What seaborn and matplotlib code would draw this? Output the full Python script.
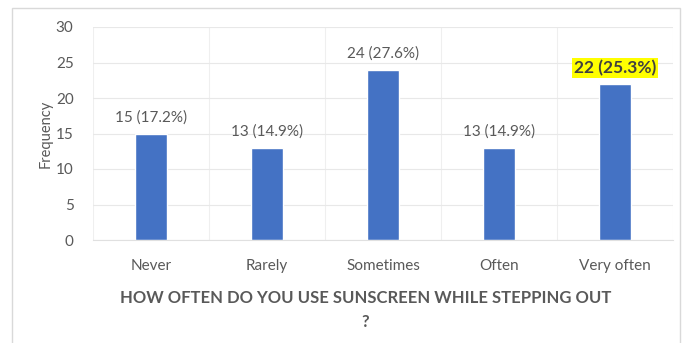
import matplotlib
matplotlib.use("Agg")
import matplotlib.pyplot as plt
import seaborn as sns
import pandas as pd
from matplotlib.patches import Rectangle

# answers and counts
categories = ["Never", "Rarely", "Sometimes", "Often", "Very often"]
counts = [15, 13, 24, 13, 22]
percents = [17.2, 14.9, 27.6, 14.9, 25.3]

df = pd.DataFrame({"answer": categories, "count": counts})

sns.set_style("whitegrid")
plt.rcParams["font.family"] = ["Lato", "DejaVu Sans"]

fig = plt.figure(figsize=(6.83, 3.43), dpi=100)
# light frame round the chart, as in the spreadsheet export
fig.patches.append(Rectangle((12 / 683, -0.01), 668 / 683, 1 - 8 / 343 + 0.01,
                             transform=fig.transFigure, fill=False,
                             edgecolor="#d9d9d9", linewidth=1))
ax = fig.add_axes([93 / 683, 1 - 240 / 343, 580 / 683, 213 / 343])

sns.barplot(data=df, x="answer", y="count", color="#4472c4", width=0.28,
            saturation=1, ax=ax)

ax.set_ylim(0, 30)
ax.set_yticks(range(0, 31, 5))
ax.set_xlim(-0.5, 4.5)
ax.set_xticks(range(len(categories)))
ax.set_xticklabels(categories)

# grid: horizontal at ticks, vertical between categories
ax.grid(axis="y", color="#e8e8e8", linewidth=0.8)
ax.set_xticks([x + 0.5 for x in range(-1, 5)], minor=True)
ax.grid(axis="x", which="major", visible=False)
ax.grid(axis="x", which="minor", color="#efefef", linewidth=0.8)
ax.tick_params(axis="x", which="minor", length=0)
ax.set_axisbelow(True)
for s in ax.spines.values():
    s.set_visible(False)
ax.spines["bottom"].set_visible(True)
ax.spines["bottom"].set_color("#e0e0e0")

ax.tick_params(axis="both", length=0, labelsize=11, colors="#595959")
ax.tick_params(axis="y", pad=14)
ax.tick_params(axis="x", pad=14)
ax.set_ylabel("Frequency", fontsize=10.5, color="#595959", labelpad=2)
ax.set_xlabel("HOW OFTEN DO YOU USE SUNSCREEN WHILE STEPPING OUT\n?",
              fontsize=12, fontweight="bold", color="#595959",
              linespacing=1.6)
ax.xaxis.set_label_coords(0.47, -0.235, transform=ax.transAxes)
ax.xaxis.label.set_va("top")

for i, (c, p) in enumerate(zip(counts, percents)):
    label = f"{c} ({p}%)"
    if i == len(counts) - 1:
        ax.text(i, c + 1.1, label, ha="center", va="bottom", fontsize=12.5,
                fontweight="bold", color="#404040",
                bbox=dict(boxstyle="square,pad=0.1", facecolor="#ffff00",
                          edgecolor="none"))
    else:
        ax.text(i, c + 1.2, label, ha="center", va="bottom", fontsize=11,
                color="#595959")

fig.savefig("out.png", dpi=100)
